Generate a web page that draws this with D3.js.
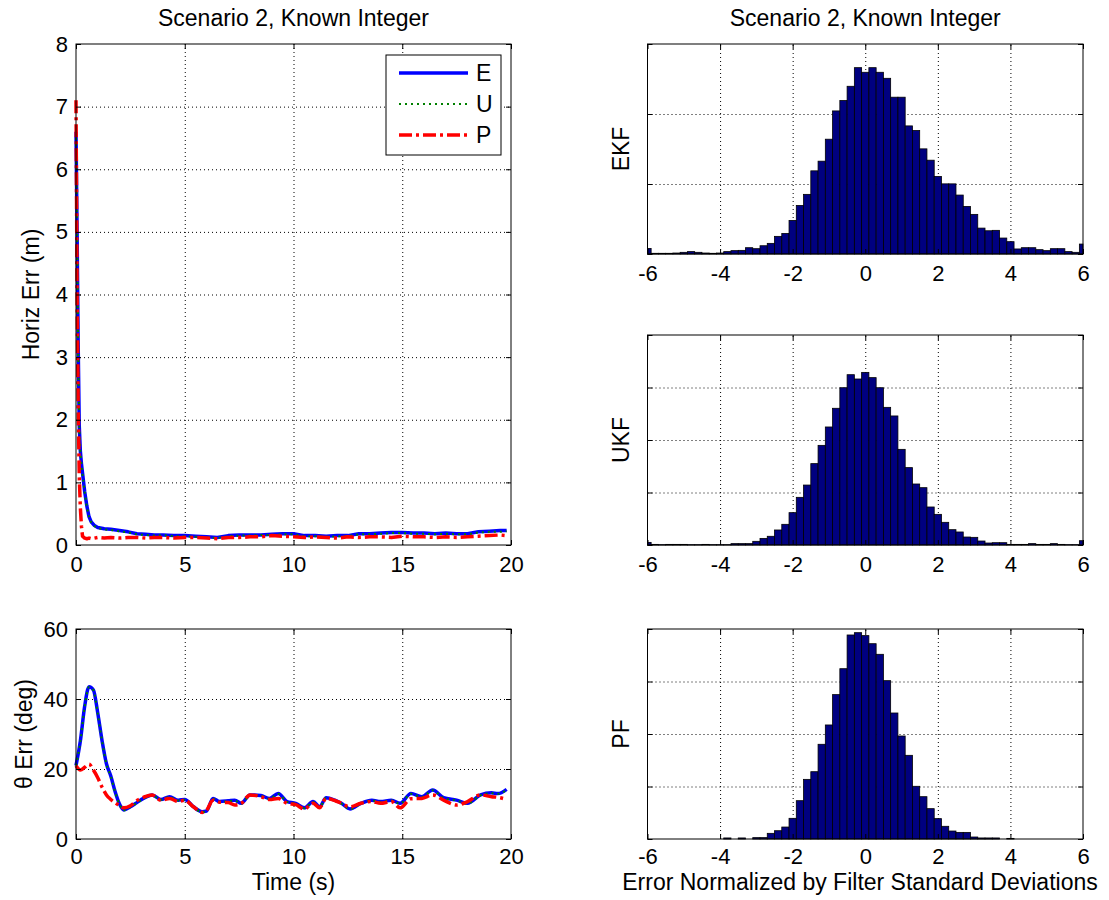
<!DOCTYPE html>
<html>
<head>
<meta charset="utf-8">
<script src="https://cdn.jsdelivr.net/npm/d3@7"></script>
<style>
  body { margin: 0; background: #fff; }
  svg { display: block; }
</style>
</head>
<body>
<div id="chart"></div>
<script>
// ---- data ----
const tHoriz = [0,0.05,0.1,0.15,0.2,0.25,0.3,0.4,0.5,0.6,0.7,0.85,1.0,1.3,1.6,2.0,2.4,2.8,3.2,3.6,4.0,4.5,5.0,5.5,6.0,6.5,7.0,7.5,8.0,8.5,9.0,9.5,10.0,10.5,11.0,11.5,12.0,12.5,13.0,13.5,14.0,14.5,15.0,15.5,16.0,16.5,17.0,17.5,18.0,18.5,19.0,19.5,19.8];
const horizE = [6.6,5.0,3.2,1.9,1.5,1.3,1.15,0.85,0.62,0.45,0.37,0.31,0.28,0.26,0.25,0.23,0.21,0.18,0.17,0.16,0.16,0.15,0.15,0.14,0.13,0.12,0.15,0.16,0.16,0.16,0.17,0.18,0.18,0.15,0.15,0.14,0.15,0.15,0.18,0.18,0.19,0.2,0.2,0.19,0.19,0.18,0.19,0.18,0.18,0.21,0.22,0.23,0.23];
const horizU = [6.5,4.9,3.1,1.9,1.5,1.3,1.12,0.84,0.6,0.45,0.36,0.3,0.27,0.25,0.24,0.22,0.2,0.17,0.16,0.15,0.16,0.14,0.14,0.13,0.12,0.11,0.14,0.15,0.15,0.16,0.16,0.17,0.17,0.14,0.14,0.13,0.14,0.14,0.17,0.17,0.18,0.19,0.19,0.18,0.18,0.17,0.18,0.17,0.17,0.2,0.21,0.21,0.22];
const horizP = [7.1,4.0,2.2,1.1,0.6,0.3,0.14,0.11,0.1,0.11,0.1,0.11,0.12,0.11,0.12,0.11,0.12,0.12,0.11,0.12,0.12,0.11,0.12,0.12,0.11,0.1,0.12,0.12,0.13,0.13,0.15,0.14,0.13,0.12,0.13,0.12,0.11,0.13,0.12,0.13,0.13,0.12,0.14,0.13,0.13,0.12,0.13,0.12,0.13,0.14,0.15,0.16,0.15];

const tTheta = [0,0.2,0.4,0.6,0.8,1.0,1.2,1.4,1.6,1.8,2.0,2.2,2.5,2.8,3.1,3.5,3.9,4.3,4.7,5.0,5.4,5.8,6.0,6.3,6.6,7.0,7.3,7.6,8.0,8.5,8.9,9.3,9.7,10.1,10.5,10.9,11.2,11.5,11.9,12.2,12.6,13.1,13.6,14.0,14.5,14.9,15.4,15.9,16.4,16.9,17.5,18.0,18.6,19.1,19.4,19.8];
const thetaE = [21,28,38,43.5,42.6,36,28,21.5,18,13.5,10,8.3,9.2,10.4,11.6,12.6,11.3,12.1,11.1,11.3,9.2,7.8,8.0,11.6,10.7,10.9,11.1,10.2,12.6,12.4,11.6,13.0,10.7,10.2,8.9,10.7,9.2,11.8,11.1,10.2,8.6,10.2,11.1,10.7,11.1,10.2,13.0,12.1,14.0,11.8,11.1,10.2,12.6,13.2,13.0,14.2];
const thetaU = [21,27.8,37.8,43.4,42.5,35.8,27.9,21.4,17.9,13.4,9.9,8.2,9.1,10.3,11.5,12.5,11.2,12.0,11.0,11.2,9.1,7.7,7.9,11.5,10.6,10.8,11.0,10.1,12.5,12.3,11.5,12.9,10.6,10.1,8.8,10.6,9.1,11.7,11.0,10.1,8.5,10.1,11.0,10.6,11.0,10.1,12.9,12.0,13.9,11.7,11.0,10.1,12.5,13.1,12.9,14.0];
const thetaP = [20.9,19.7,20.5,21.4,19.7,17.5,14.8,12.6,11.3,10.3,9.6,8.9,9.5,11.0,11.9,12.6,11.1,11.6,10.7,11.1,9.2,7.6,8.2,11.1,10.5,10.4,9.7,10.2,12.6,12.1,11.3,11.6,10.2,9.8,8.6,10.2,8.9,11.6,11.0,10.2,9.2,10.2,10.7,10.2,10.7,8.9,11.5,11.6,12.6,11.1,9.7,10.7,12.6,12.1,11.9,11.3];

const binCenters = [-6,-5.8,-5.6,-5.4,-5.2,-5,-4.8,-4.6,-4.4,-4.2,-4,-3.8,-3.6,-3.4,-3.2,-3,-2.8,-2.6,-2.4,-2.2,-2,-1.8,-1.6,-1.4,-1.2,-1,-0.8,-0.6,-0.4,-0.2,0,0.2,0.4,0.6,0.8,1,1.2,1.4,1.6,1.8,2,2.2,2.4,2.6,2.8,3,3.2,3.4,3.6,3.8,4,4.2,4.4,4.6,4.8,5,5.2,5.4,5.6,5.8,6];
const ekfCounts = [40,5,5,5,7,12,17,12,7,5,7,17,24,26,45,38,59,76,126,147,240,347,426,594,663,820,1022,1096,1198,1331,1298,1331,1298,1255,1120,1120,915,882,751,670,554,501,501,421,340,283,185,166,169,114,88,36,45,45,31,24,38,38,17,12,71];
const ukfCounts = [25,6,3,6,6,6,3,3,6,3,3,3,13,13,13,35,63,83,143,197,308,454,571,775,949,1124,1302,1498,1622,1581,1644,1594,1498,1311,1229,911,737,581,546,362,292,216,146,124,76,73,38,19,22,22,6,6,6,13,6,6,13,6,3,3,41];
const pfCounts = [0,0,0,0,0,0,0,0,0,0,0,10,0,10,0,13,13,54,79,114,197,365,568,641,902,1086,1375,1622,1943,1965,1937,1860,1759,1508,1200,981,797,502,403,289,194,121,76,63,63,19,10,10,10,0,6,0,0,0,0,0,0,0,0,0,0];

const timeTicks = [0,5,10,15,20];
const horizTicks = [0,1,2,3,4,5,6,7,8];
const thetaTicks = [0,20,40,60];
const errTicks = [-6,-4,-2,0,2,4,6];

const legendNames = ['E','U','P'];
const titleText = 'Scenario 2, Known Integer';

// ---- layout ----
const W = 1109, H = 900;
const FONT = '"Liberation Sans", Arial, Helvetica, sans-serif';
const FS = 22;      // tick labels
const LFS = 23;     // titles, axis labels, legend
const leftCol = { l: 76, r: 511 };
const rightCol = { l: 647.5, r: 1083 };

const svg = d3.select('#chart').append('svg')
  .attr('width', W).attr('height', H)
  .style('font-family', FONT);

svg.append('rect').attr('width', W).attr('height', H).attr('fill', '#fff');

const fmt = d => String(d);

function panel(box, xDom, yDom, xTicks, yTicks) {
  const x = d3.scaleLinear().domain(xDom).range([box.l, box.r]);
  const y = d3.scaleLinear().domain(yDom).range([box.b, box.t]);
  const w = box.r - box.l, h = box.b - box.t;

  svg.append('rect')
    .attr('x', box.l).attr('y', box.t).attr('width', w).attr('height', h)
    .attr('fill', '#fff');

  // dotted grid
  const grid = svg.append('g');
  grid.append('g')
    .attr('transform', `translate(0,${box.b})`)
    .call(d3.axisBottom(x).tickValues(xTicks.filter(v => v > xDom[0] && v < xDom[1]))
      .tickSize(-h).tickFormat(''));
  grid.append('g')
    .attr('transform', `translate(${box.l},0)`)
    .call(d3.axisLeft(y).tickValues(yTicks.filter(v => v > yDom[0] && v < yDom[1]))
      .tickSize(-w).tickFormat(''));
  grid.selectAll('.domain').remove();
  grid.selectAll('line')
    .attr('stroke', '#000')
    .attr('stroke-width', 1)
    .attr('stroke-dasharray', '1,3');

  const marks = svg.append('g');

  function finish(showX, showY, pad) {
    const ax = svg.append('g').attr('font-size', FS).attr('font-family', FONT);
    ax.append('g').attr('transform', `translate(0,${box.b})`)
      .call(d3.axisBottom(x).tickValues(xTicks).tickSizeInner(-5).tickSizeOuter(0)
        .tickPadding(pad).tickFormat(showX ? fmt : ''));
    ax.append('g').attr('transform', `translate(0,${box.t})`)
      .call(d3.axisTop(x).tickValues(xTicks).tickSizeInner(-5).tickSizeOuter(0).tickFormat(''));
    ax.append('g').attr('transform', `translate(${box.l},0)`)
      .call(d3.axisLeft(y).tickValues(yTicks).tickSizeInner(-5).tickSizeOuter(0)
        .tickPadding(8).tickFormat(showY ? fmt : ''));
    ax.append('g').attr('transform', `translate(${box.r},0)`)
      .call(d3.axisRight(y).tickValues(yTicks).tickSizeInner(-5).tickSizeOuter(0).tickFormat(''));
    ax.selectAll('.domain').remove();
    ax.selectAll('.tick line').attr('stroke', '#000');
    ax.selectAll('.tick text').attr('fill', '#000').attr('font-family', FONT).attr('font-size', FS);
    ax.append('rect')
      .attr('x', box.l).attr('y', box.t).attr('width', w).attr('height', h)
      .attr('fill', 'none').attr('stroke', '#000').attr('stroke-width', 1);
  }

  return { x, y, marks, finish, box };
}

function yLabel(text, xBase, box) {
  svg.append('text')
    .attr('transform', `translate(${xBase},${(box.t + box.b) / 2}) rotate(-90)`)
    .attr('text-anchor', 'middle')
    .attr('font-size', LFS).attr('fill', '#000')
    .text(text);
}

function xLabel(text, yBase, xc) {
  svg.append('text')
    .attr('x', xc).attr('y', yBase)
    .attr('text-anchor', 'middle')
    .attr('font-size', LFS).attr('fill', '#000')
    .text(text);
}

const seriesStyle = [
  { color: '#0000ff', width: 3.5, dash: null },
  { color: '#008000', width: 2, dash: '2,4' },
  { color: '#ff0000', width: 3.5, dash: '13,4,3,4' }
];

function drawLines(p, t, seriesList, curve) {
  seriesList.forEach((vals, k) => {
    const st = seriesStyle[k];
    const line = d3.line()
      .x((d, i) => p.x(t[i]))
      .y(d => p.y(d))
      .curve(curve);
    p.marks.append('path')
      .datum(vals)
      .attr('fill', 'none')
      .attr('stroke', st.color)
      .attr('stroke-width', st.width)
      .attr('stroke-dasharray', st.dash)
      .attr('stroke-linejoin', 'round')
      .attr('d', line);
  });
}

// ---- top left: horizontal error ----
const pH = panel({ ...leftCol, t: 44, b: 545 }, [0, 20], [0, 8], timeTicks, horizTicks);
drawLines(pH, tHoriz, [horizE, horizU, horizP], d3.curveLinear);
pH.finish(true, true, 11);
yLabel('Horiz Err (m)', 39, pH.box);

// legend
const lg = svg.append('g').attr('font-size', LFS);
lg.append('rect').attr('x', 386).attr('y', 55).attr('width', 115).attr('height', 100)
  .attr('fill', '#fff').attr('stroke', '#000');
legendNames.forEach((name, k) => {
  const st = seriesStyle[k];
  const yy = 73 + k * 31;
  lg.append('line').attr('x1', 399).attr('x2', 468).attr('y1', yy).attr('y2', yy)
    .attr('stroke', st.color).attr('stroke-width', st.width).attr('stroke-dasharray', st.dash);
  lg.append('text').attr('x', 476).attr('y', yy + 8).attr('fill', '#000').text(name);
});

// ---- bottom left: theta error ----
const pT = panel({ ...leftCol, t: 629, b: 839 }, [0, 20], [0, 60], timeTicks, thetaTicks);
drawLines(pT, tTheta, [thetaE, thetaU, thetaP], d3.curveMonotoneX);
pT.finish(true, true, 9);
yLabel('\u03b8 Err (deg)', 32, pT.box);
xLabel('Time (s)', 890, (leftCol.l + leftCol.r) / 2);

// ---- right column: histograms ----
function histPanel(box, counts, yMax, yTicks, name, pad) {
  const p = panel(box, [-6, 6], [0, yMax], errTicks, yTicks);
  p.marks.selectAll('rect')
    .data(binCenters.map((c, i) => ({ c, v: counts[i] })))
    .join('rect')
    .attr('x', d => p.x(Math.max(d.c - 0.1, -6)))
    .attr('width', d => p.x(Math.min(d.c + 0.1, 6)) - p.x(Math.max(d.c - 0.1, -6)))
    .attr('y', d => p.y(d.v))
    .attr('height', d => p.y(0) - p.y(d.v))
    .attr('fill', '#000080')
    .attr('stroke', '#000')
    .attr('stroke-width', 0.8);
  p.finish(true, false, pad);
  yLabel(name, 629, box);
  return p;
}

histPanel({ ...rightCol, t: 44, b: 254 }, ekfCounts, 1500, [0, 500, 1000, 1500], 'EKF', 11);
histPanel({ ...rightCol, t: 335, b: 545 }, ukfCounts, 2000, [0, 500, 1000, 1500, 2000], 'UKF', 11);
histPanel({ ...rightCol, t: 629, b: 839 }, pfCounts, 2000, [0, 500, 1000, 1500, 2000], 'PF', 9);
xLabel('Error Normalized by Filter Standard Deviations', 890, 860);

// titles
svg.append('text').attr('x', (leftCol.l + leftCol.r) / 2).attr('y', 26)
  .attr('text-anchor', 'middle').attr('font-size', LFS).attr('fill', '#000').text(titleText);
svg.append('text').attr('x', (rightCol.l + rightCol.r) / 2).attr('y', 26)
  .attr('text-anchor', 'middle').attr('font-size', LFS).attr('fill', '#000').text(titleText);
</script>
</body>
</html>
